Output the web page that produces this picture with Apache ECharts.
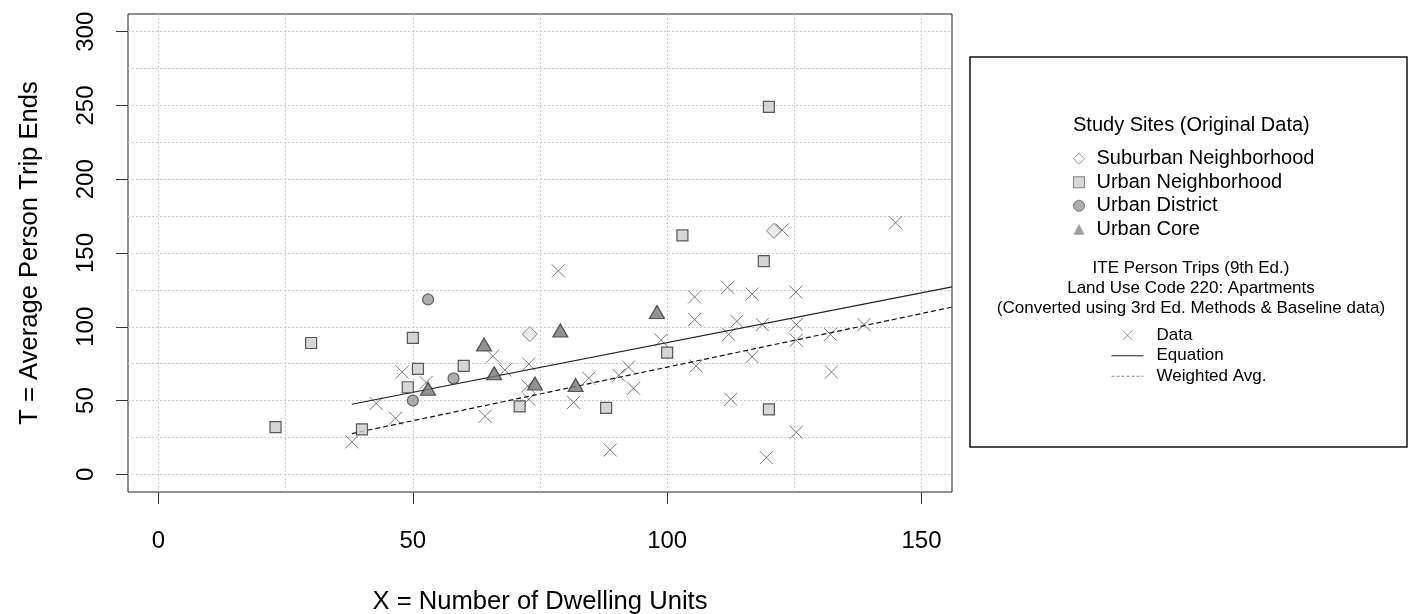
<!DOCTYPE html>
<html>
<head>
<meta charset="utf-8">
<script src="https://cdn.jsdelivr.net/npm/echarts@6/dist/echarts.min.js"></script>
<style>
  html, body { margin: 0; padding: 0; background: #fff; }
  #chart { width: 1408px; height: 614px; }
</style>
</head>
<body>
<div id="chart"></div>
<script>
// Study sites (original data), [dwelling units, person trip ends]
const suburbanNeighborhood = [[73, 95], [121, 165]];
const urbanNeighborhood = [[23, 32], [30, 89], [40, 30.5], [49, 59], [50, 92.5], [51, 71.5], [60, 73.5],
    [71, 46], [88, 45], [100, 82.5], [103, 162], [119, 144.5], [120, 44], [120, 249]];
const urbanDistrict = [[50, 50], [53, 118.5], [58, 65]];
const urbanCore = [[53, 58], [64, 88], [66, 68.5], [74, 61.5], [79, 97.5], [82, 60.5], [98, 110]];

// ITE person trips (converted)
const tripData = [[38, 22], [42.8, 48], [46.6, 38], [47.9, 69.3], [52.6, 62.2], [64.2, 39.3], [65.7, 80.1],
    [68.1, 70.7], [72.8, 74.7], [72.6, 59.9], [72.8, 50.9], [78.6, 137.9], [81.6, 48.7], [84.6, 65.1],
    [88.8, 16.5], [90.5, 67.1], [92.4, 72.7], [93.4, 58.3], [98.8, 90.9], [105.4, 120.2], [105.4, 104.9],
    [105.7, 73.4], [111.9, 126.7], [113.7, 103.7], [112.1, 94.8], [112.5, 50.9], [116.7, 122.2], [116.7, 79.7],
    [118.7, 101.5], [119.5, 11.3], [122.6, 165.6], [125.3, 123.5], [125.4, 101.5], [125.4, 90.9], [125.4, 28.5],
    [132.1, 94.8], [132.3, 69.3], [138.7, 101.5], [144.9, 170.5]];

// fitted lines, endpoints
const equationLine = [[38, 47.5], [156, 127]];
const weightedAvgLine = [[38, 27.6], [156, 113.3]];

// axis ticks / grid
const xLabels = [0, 50, 100, 150];
const xGrid = [0, 25, 50, 75, 100, 125, 150];
const yLabels = [0, 50, 100, 150, 200, 250, 300];
const yGrid = [0, 25, 50, 75, 100, 125, 150, 175, 200, 225, 250, 275, 300];

const FONT = "'Liberation Sans', Arial, sans-serif";
const crossPath = 'path://M0,0L10,10M10,0L0,10';

var chart = echarts.init(document.getElementById('chart'), null, { renderer: 'canvas' });

var gridLine = { show: true, lineStyle: { color: '#cccccc', width: 1, type: [2, 2] } };

var option = {
    animation: false,
    textStyle: { fontFamily: FONT },
    grid: {
        left: 128, top: 14, right: 456, bottom: 122,
        outerBoundsMode: 'none', containLabel: false,
        show: true, borderColor: '#222', borderWidth: 1, backgroundColor: 'transparent'
    },
    xAxis: [{
        type: 'value', min: -6, max: 156,
        axisLine: { show: false, onZero: false },
        axisTick: { show: true, customValues: xLabels, length: 12, lineStyle: { color: '#333' } },
        axisLabel: { customValues: xLabels, margin: 37, fontSize: 24, color: '#000', fontFamily: FONT },
        splitLine: { show: false },
        name: 'X = Number of Dwelling Units', nameLocation: 'middle', nameGap: 97,
        nameTextStyle: { fontSize: 25.6, color: '#000', fontFamily: FONT }
    }, {
        type: 'value', min: -6, max: 156,
        axisLine: { show: false, onZero: false },
        axisTick: { show: false, customValues: xGrid },
        axisLabel: { show: false },
        splitLine: gridLine
    }],
    yAxis: [{
        type: 'value', min: -12, max: 312,
        axisLine: { show: false, onZero: false },
        axisTick: { show: true, customValues: yLabels, length: 12, lineStyle: { color: '#333' } },
        axisLabel: { customValues: yLabels, rotate: 90, margin: 30, fontSize: 24, color: '#000', fontFamily: FONT },
        splitLine: { show: false },
        name: 'T = Average Person Trip Ends', nameLocation: 'middle', nameGap: 85,
        nameTextStyle: { fontSize: 25.6, color: '#000', fontFamily: FONT }
    }, {
        type: 'value', min: -12, max: 312,
        axisLine: { show: false, onZero: false },
        axisTick: { show: false, customValues: yGrid },
        axisLabel: { show: false },
        splitLine: gridLine
    }],
    legend: [{
        left: 1073, top: 147, orient: 'vertical', padding: 0,
        itemWidth: 11, itemHeight: 11, itemGap: 0,
        textStyle: { fontSize: 20, color: '#000', lineHeight: 23.5, padding: [0, 0, 0, 7], fontFamily: FONT },
        data: [
            { name: 'Suburban Neighborhood', icon: 'diamond', itemStyle: { color: '#fff', borderColor: '#777', borderWidth: 1 } },
            { name: 'Urban Neighborhood', icon: 'rect', itemStyle: { color: '#d0d0d0', borderColor: '#666', borderWidth: 1 } },
            { name: 'Urban District', icon: 'circle', itemStyle: { color: '#999', borderColor: '#666', borderWidth: 1 } },
            { name: 'Urban Core', icon: 'triangle', itemStyle: { color: '#888', borderColor: '#888', borderWidth: 0 } }
        ]
    }, {
        left: 1111, top: 325, orient: 'vertical', padding: 0,
        itemWidth: 32, itemHeight: 10, itemGap: 0,
        textStyle: { fontSize: 17, color: '#000', lineHeight: 20.5, padding: [0, 0, 0, 8], fontFamily: FONT },
        data: [
            { name: 'Data', itemStyle: { color: 'none', borderColor: '#777', borderWidth: 1 } },
            { name: 'Equation', itemStyle: { opacity: 0 }, lineStyle: { color: '#222', width: 1 } },
            { name: 'Weighted Avg.', itemStyle: { opacity: 0 }, lineStyle: { color: '#888', width: 1, type: [3, 2] } }
        ]
    }],
    graphic: [{
        type: 'rect', shape: { x: 970, y: 57, width: 437, height: 390 },
        style: { fill: 'none', stroke: '#111', lineWidth: 1.5 }
    }, {
        type: 'text', x: 1073, y: 125,
        style: { text: 'Study Sites (Original Data)', font: '20px ' + FONT, fill: '#000', textVerticalAlign: 'middle' }
    }, {
        type: 'text', x: 1191, y: 288,
        style: {
            text: 'ITE Person Trips (9th Ed.)\nLand Use Code 220: Apartments\n(Converted using 3rd Ed. Methods & Baseline data)',
            font: '17px ' + FONT, fill: '#000', textAlign: 'center', textVerticalAlign: 'middle', lineHeight: 20
        }
    }],
    series: [{
        name: 'Data', type: 'scatter', data: tripData,
        symbol: crossPath, symbolSize: 13, z: 3,
        itemStyle: { color: 'none', borderColor: '#555', borderWidth: 1 }
    }, {
        name: 'Equation', type: 'line', data: equationLine,
        symbol: 'none', z: 4,
        lineStyle: { color: '#222', width: 1.2 }
    }, {
        name: 'Weighted Avg.', type: 'line', data: weightedAvgLine,
        symbol: 'none', z: 4,
        lineStyle: { color: '#111', width: 1.2, type: [5, 3] }
    }, {
        name: 'Suburban Neighborhood', type: 'scatter', data: suburbanNeighborhood,
        symbol: 'diamond', symbolSize: 15, z: 5,
        itemStyle: { color: '#e6e6e6', borderColor: '#666', borderWidth: 1 }
    }, {
        name: 'Urban Neighborhood', type: 'scatter', data: urbanNeighborhood,
        symbol: 'rect', symbolSize: 11, z: 5,
        itemStyle: { color: '#cccccc', borderColor: '#333', borderWidth: 1.2 }
    }, {
        name: 'Urban District', type: 'scatter', data: urbanDistrict,
        symbol: 'circle', symbolSize: 11, z: 5,
        itemStyle: { color: '#999999', borderColor: '#444', borderWidth: 1.2 }
    }, {
        name: 'Urban Core', type: 'scatter', data: urbanCore,
        symbol: 'triangle', symbolSize: [15, 13], z: 5,
        itemStyle: { color: '#777777', borderColor: '#333', borderWidth: 1.2 }
    }]
};

chart.setOption(option);
</script>
</body>
</html>
